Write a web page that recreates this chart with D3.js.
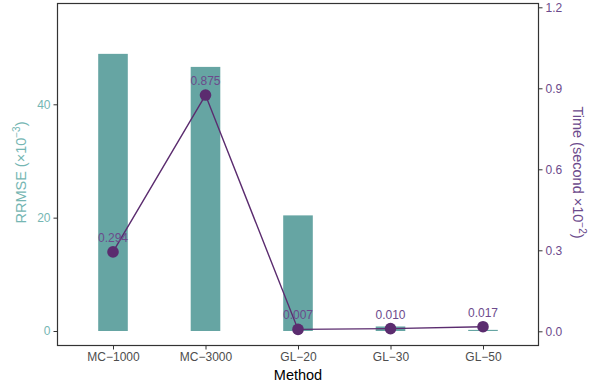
<!DOCTYPE html>
<html>
<head>
<meta charset="utf-8">
<script src="https://cdn.jsdelivr.net/npm/d3@7"></script>
<style>
  body { margin: 0; background: #fff; }
  text { font-family: "Liberation Sans", Arial, sans-serif; }
</style>
</head>
<body>
<svg id="chart" width="602" height="387"></svg>
<script>
// Methods compared, their error (RRMSE ×10^-3) and run time (second ×10^-2)
const methods = ["MC\u22121000", "MC\u22123000", "GL\u221220", "GL\u221230", "GL\u221250"];
const rrmse = [48.9, 46.6, 20.4, 0.8, 0.2];
const timeVals = [0.294, 0.875, 0.007, 0.010, 0.017];
const timeLabels = ["0.294", "0.875", "0.007", "0.010", "0.017"];
const leftTicks = [0, 20, 40];
const rightTicks = [0, 0.3, 0.6, 0.9, 1.2];

const barColor = "#66a5a3";
const leftText = "#75b6b3";
const lineColor = "#5b2c6f";
const rightText = "#6c4a8c";

const svg = d3.select("#chart");
const panel = { left: 57.5, right: 538.5, top: 3.5, bottom: 345.5 };

// Discrete x positions with 0.6 step padding on each side
const step = (panel.right - panel.left) / (methods.length - 1 + 1.2);
const x = d3.scalePoint().domain(methods)
  .range([panel.left + 0.6 * step, panel.right - 0.6 * step]);

const yLeft = d3.scaleLinear().domain([0, 40]).range([331, 104.3]);
const yRight = d3.scaleLinear().domain([0, 1.2]).range([331.3, 7.3]);

const barW = step * 0.32;

// Bars: RRMSE
svg.append("g").selectAll("rect").data(rrmse).join("rect")
  .attr("x", (d, i) => x(methods[i]) - barW / 2)
  .attr("width", barW)
  .attr("y", d => yLeft(d))
  .attr("height", d => yLeft(0) - yLeft(d))
  .attr("fill", barColor);

// Line + points: run time
const line = d3.line().x((d, i) => x(methods[i])).y(d => yRight(d));
svg.append("path").datum(timeVals)
  .attr("d", line).attr("fill", "none")
  .attr("stroke", lineColor).attr("stroke-width", 1.4);

svg.append("g").selectAll("circle").data(timeVals).join("circle")
  .attr("cx", (d, i) => x(methods[i]))
  .attr("cy", d => yRight(d))
  .attr("r", 5.8)
  .attr("fill", lineColor);

svg.append("g").selectAll("text").data(timeVals).join("text")
  .attr("x", (d, i) => x(methods[i]))
  .attr("y", d => yRight(d) - 10)
  .attr("text-anchor", "middle")
  .attr("font-size", 12)
  .attr("fill", rightText)
  .text((d, i) => timeLabels[i]);

// Panel frame
svg.append("rect")
  .attr("x", panel.left).attr("y", panel.top)
  .attr("width", panel.right - panel.left).attr("height", panel.bottom - panel.top)
  .attr("fill", "none").attr("stroke", "#333").attr("stroke-width", 1.2);

// Left axis
const gl = svg.append("g").attr("transform", `translate(${panel.left},0)`)
  .call(d3.axisLeft(yLeft).tickValues(leftTicks).tickSize(4).tickPadding(3).tickFormat(d3.format("d")));
gl.select(".domain").remove();
gl.selectAll("line").attr("stroke", "#333");
gl.selectAll("text").attr("font-size", 12).attr("fill", leftText);

// Right axis
const gr = svg.append("g").attr("transform", `translate(${panel.right},0)`)
  .call(d3.axisRight(yRight).tickValues(rightTicks).tickSize(4).tickPadding(3).tickFormat(d3.format(".1f")));
gr.select(".domain").remove();
gr.selectAll("line").attr("stroke", "#333");
gr.selectAll("text").attr("font-size", 12).attr("fill", rightText);

// Bottom axis
const gb = svg.append("g").attr("transform", `translate(0,${panel.bottom})`)
  .call(d3.axisBottom(x).tickSize(4).tickPadding(3));
gb.select(".domain").remove();
gb.selectAll("line").attr("stroke", "#333");
gb.selectAll("text").attr("font-size", 12).attr("fill", "#4d4d4d");

// Axis titles
svg.append("text")
  .attr("x", (panel.left + panel.right) / 2).attr("y", 380)
  .attr("text-anchor", "middle").attr("font-size", 14.5).attr("fill", "#000")
  .text("Method");

const lt = svg.append("text")
  .attr("transform", `translate(26,${(panel.top + panel.bottom) / 2 - 2}) rotate(-90)`)
  .attr("text-anchor", "middle").attr("font-size", 14.5).attr("fill", leftText);
lt.append("tspan").text("RRMSE (\u00d710");
lt.append("tspan").attr("dy", -6).attr("font-size", 10).text("\u22123");
lt.append("tspan").attr("dy", 6).text(")");

const rt = svg.append("text")
  .attr("transform", `translate(573,${(panel.top + panel.bottom) / 2 - 2}) rotate(90)`)
  .attr("text-anchor", "middle").attr("font-size", 14.5).attr("fill", rightText);
rt.append("tspan").text("Time (second \u00d710");
rt.append("tspan").attr("dy", -6).attr("font-size", 10).text("\u22122");
rt.append("tspan").attr("dy", 6).text(")");
</script>
</body>
</html>
